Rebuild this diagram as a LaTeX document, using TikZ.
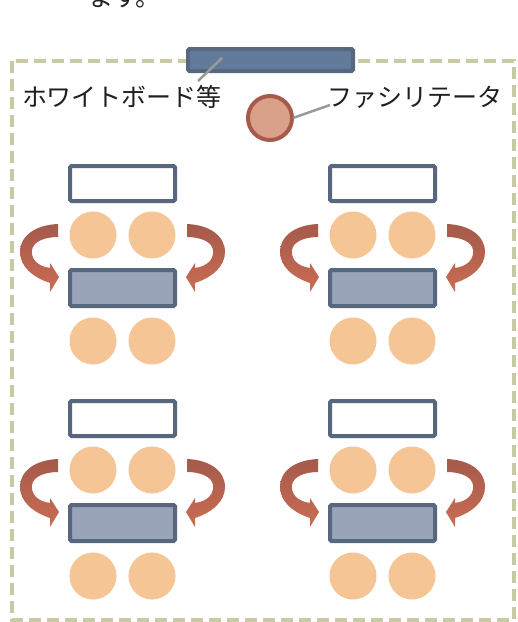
\documentclass[tikz,border=0pt]{standalone}
\usepackage{fontspec}
\newfontfamily\jpfont{Noto Sans CJK JP}
\definecolor{borderc}{HTML}{C9C9A3}
\definecolor{tabedge}{HTML}{57677D}
\definecolor{wbfill}{HTML}{637B9B}
\definecolor{tabfill}{HTML}{99A3B9}
\definecolor{seat}{HTML}{F5C595}
\definecolor{facfill}{HTML}{D9A08A}
\definecolor{facedge}{HTML}{A65A4B}
\definecolor{arrtop}{HTML}{A45A4B}
\definecolor{arrbot}{HTML}{CB6C53}
\definecolor{leader}{HTML}{9A9A9A}
\tikzset{
  desk/.style={draw=tabedge, line width=4pt, rounded corners=1.5pt, minimum width=105pt, inner sep=0pt},
  seatc/.style={circle, fill=seat, minimum size=47pt, inner sep=0pt},
  lbl/.style={font=\jpfont\fontsize{25pt}{28pt}\selectfont, text=black!88, inner sep=0pt},
  leadl/.style={draw=leader, line width=2.5pt},
  turnarrow/.style={top color=arrtop, bottom color=arrbot, draw=none}
}
\newcommand\turnshape{%
  \path[turnarrow] (58,224) .. controls (35,225) and (20,236) .. (20,252)
     .. controls (20,266) and (32,277) .. (50,283)
     -- (50,292) -- (59,277) -- (50,263) -- (50,268)
     .. controls (36,266) and (31,258) .. (32,250)
     .. controls (33,242) and (44,237) .. (58,237) -- cycle;}
\begin{document}
\begin{tikzpicture}[x=1pt,y=-1pt]
\useasboundingbox (0,0) rectangle (518,622);
\clip (0,0) rectangle (518,622);
\fill[white] (0,0) rectangle (518,622);
% clipped text at top
\node[lbl, anchor=south west] (toptext) at (88,8) {ます。};
% dashed room border
\draw[borderc, line width=4pt, dash pattern=on 12pt off 6pt] (12,61) rectangle (514,620);
% whiteboard
\node[draw=tabedge, fill=wbfill, line width=4pt, rounded corners=1.5pt, minimum width=165pt, minimum height=22pt, inner sep=0pt] (wb) at (270.5,60) {};
\node[lbl] (wblabel) at (122,97) {ホワイトボード等};
\coordinate (wbend) at (222,58);
\coordinate (wblend) at (198,81);
\draw[leadl] (wbend) -- (wblend);
% facilitator
\node[circle, draw=facedge, fill=facfill, line width=4pt, minimum size=44pt, inner sep=0pt] (fac) at (270,118) {};
\node[lbl] (faclabel) at (415,97) {ファシリテータ};
\coordinate (facl) at (330,105);
\draw[leadl] (fac.east) ++(-1,0) coordinate (face) -- (facl);
% groups
\foreach \dx/\dy/\g in {0/0/a, 260/0/b, 0/235/c, 260/235/d}{
  \begin{scope}[shift={(\dx,\dy)}]
    \node[desk, fill=white, minimum height=35pt] (top\g) at (122.5,183.5) {};
    \node[desk, fill=tabfill, minimum height=36pt] (mid\g) at (122.5,288) {};
    \node[seatc] (s1\g) at (93,235) {};
    \node[seatc] (s2\g) at (152,235) {};
    \node[seatc] (s3\g) at (93,341) {};
    \node[seatc] (s4\g) at (152,341) {};
    \turnshape
    \begin{scope}[shift={(245,0)}, xscale=-1]
      \turnshape
    \end{scope}
  \end{scope}
}
\end{tikzpicture}
\end{document}
